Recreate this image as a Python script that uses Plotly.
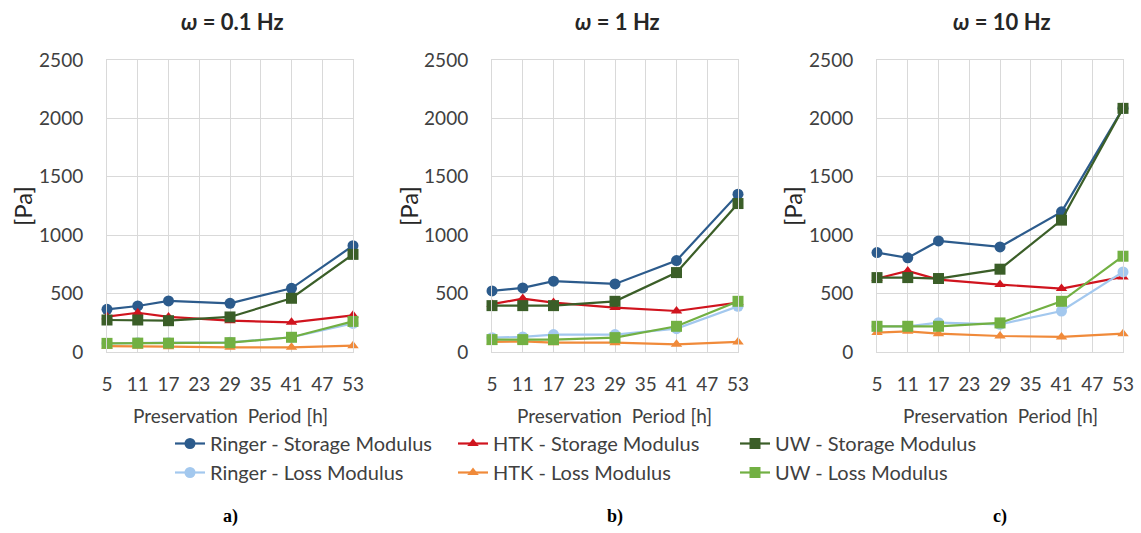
import plotly.graph_objects as go

W, H = 1141, 533

hours = [5, 11, 17, 29, 41, 53]
x_ticks = [5, 11, 17, 23, 29, 35, 41, 47, 53]
y_ticks = [0, 500, 1000, 1500, 2000, 2500]

panel_titles = ["<b><i>ω</i> = 0.1 Hz</b>", "<b><i>ω</i> = 1 Hz</b>", "<b><i>ω</i> = 10 Hz</b>"]
panel_labels = ["a)", "b)", "c)"]

series_names = [
    "Ringer - Storage Modulus", "HTK - Storage Modulus", "UW - Storage Modulus",
    "Ringer - Loss Modulus", "HTK - Loss Modulus", "UW - Loss Modulus",
]

# panel a: 0.1 Hz
ringer_storage_01 = [365, 394, 437, 417, 545, 910]
htk_storage_01 = [302, 336, 300, 268, 254, 314]
uw_storage_01 = [274, 274, 268, 300, 460, 836]
ringer_loss_01 = [74, 80, 80, 83, 126, 245]
htk_loss_01 = [50, 50, 46, 40, 40, 54]
uw_loss_01 = [74, 76, 76, 80, 126, 262]

# panel b: 1 Hz
ringer_storage_1 = [523, 549, 606, 583, 783, 1351]
htk_storage_1 = [409, 457, 423, 380, 351, 423]
uw_storage_1 = [397, 397, 397, 434, 680, 1271]
ringer_loss_1 = [123, 129, 149, 149, 200, 391]
htk_loss_1 = [86, 91, 80, 80, 66, 86]
uw_loss_1 = [106, 106, 106, 123, 220, 434]

# panel c: 10 Hz
ringer_storage_10 = [851, 806, 951, 900, 1200, 2086]
htk_storage_10 = [629, 694, 620, 577, 543, 643]
uw_storage_10 = [637, 637, 629, 709, 1129, 2086]
ringer_loss_10 = [220, 220, 251, 237, 351, 686]
htk_loss_10 = [166, 177, 157, 137, 129, 157]
uw_loss_10 = [220, 220, 220, 249, 434, 820]

panels = [
    [ringer_storage_01, htk_storage_01, uw_storage_01, ringer_loss_01, htk_loss_01, uw_loss_01],
    [ringer_storage_1, htk_storage_1, uw_storage_1, ringer_loss_1, htk_loss_1, uw_loss_1],
    [ringer_storage_10, htk_storage_10, uw_storage_10, ringer_loss_10, htk_loss_10, uw_loss_10],
]

colors = ["#2C5B8C", "#D0141E", "#3B5E28", "#A3C8EE", "#F08A3A", "#72B043"]
symbols = ["circle", "triangle-up", "square", "circle", "triangle-up", "square"]
msizes = [11, 10, 11, 11, 10, 11]
legend_ids = ["legend", "legend2", "legend3", "legend", "legend2", "legend3"]

# pixel layout
plot_left = [107, 492, 877]
plot_w = 246
plot_top, plot_bot = 60, 352
centers = [230, 615, 1000]
ylab_x = [22, 408, 792]

FONT = "Lato"
TXT = "#404040"

def px(x):
    return x / W

def py(y):
    return 1 - y / H

fig = go.Figure()

for p, data in enumerate(panels):
    xa = "x" if p == 0 else f"x{p+1}"
    ya = "y" if p == 0 else f"y{p+1}"
    for i, vals in enumerate(data):
        fig.add_trace(go.Scatter(
            x=hours, y=vals, mode="lines+markers", name=series_names[i],
            line=dict(color=colors[i], width=2.2),
            marker=dict(symbol=symbols[i], size=msizes[i], color=colors[i]),
            xaxis=xa, yaxis=ya, cliponaxis=False,
            legend=legend_ids[i], showlegend=(p == 0),
        ))

axis_common = dict(
    showgrid=True, gridcolor="#D9D9D9", gridwidth=1,
    showline=True, linecolor="#D9D9D9", linewidth=1, mirror=True,
    zeroline=False, ticks="", automargin=False,
    tickfont=dict(family=FONT, size=19, color=TXT),
)

layout = dict(
    width=W, height=H, margin=dict(l=0, r=0, t=0, b=0, autoexpand=False),
    paper_bgcolor="white", plot_bgcolor="white",
    font=dict(family=FONT, color=TXT),
)

for p in range(3):
    sx = "" if p == 0 else str(p + 1)
    layout[f"xaxis{sx}"] = dict(
        axis_common, domain=[px(plot_left[p]), px(plot_left[p] + plot_w)],
        range=[5, 53], tickvals=x_ticks, anchor=f"y{sx}", ticklabelstandoff=15,
    )
    layout[f"yaxis{sx}"] = dict(
        axis_common, domain=[py(plot_bot), py(plot_top)],
        range=[0, 2500], tickvals=y_ticks, anchor=f"x{sx}", ticklabelstandoff=19,
    )

annotations = []
for p in range(3):
    annotations.append(dict(
        x=px(centers[p] + 2), y=py(21), xref="paper", yref="paper",
        text=panel_titles[p], showarrow=False, xanchor="center", yanchor="middle",
        font=dict(family=FONT, size=22, color="#262626"),
    ))
    annotations.append(dict(
        x=px(ylab_x[p]), y=py(206), xref="paper", yref="paper",
        text="[Pa]", textangle=-90, showarrow=False, xanchor="center", yanchor="middle",
        font=dict(family=FONT, size=24, color="#262626"),
    ))
    annotations.append(dict(
        x=px(centers[p]), y=py(415), xref="paper", yref="paper",
        text="Preservation\u00a0 Period [h]", showarrow=False, xanchor="center", yanchor="middle",
        font=dict(family=FONT, size=19, color=TXT),
    ))
    annotations.append(dict(
        x=px(centers[p]), y=py(516), xref="paper", yref="paper",
        text=f"<b>{panel_labels[p]}</b>", showarrow=False, xanchor="center", yanchor="middle",
        font=dict(family="Liberation Serif", size=18, color="black"),
    ))
layout["annotations"] = annotations

leg_common = dict(
    orientation="v", xanchor="left", yanchor="top", bgcolor="rgba(0,0,0,0)",
    font=dict(family=FONT, size=20, color=TXT), tracegroupgap=0,
    itemwidth=30,
)
layout["legend"] = dict(leg_common, x=px(170), y=py(424))
layout["legend2"] = dict(leg_common, x=px(453), y=py(424))
layout["legend3"] = dict(leg_common, x=px(735), y=py(424))

fig.update_layout(**layout)
fig.write_html(
    "out.html",
    config={"displayModeBar": False},
    post_script="document.body.style.margin='0';document.body.style.overflow='hidden';",
)
